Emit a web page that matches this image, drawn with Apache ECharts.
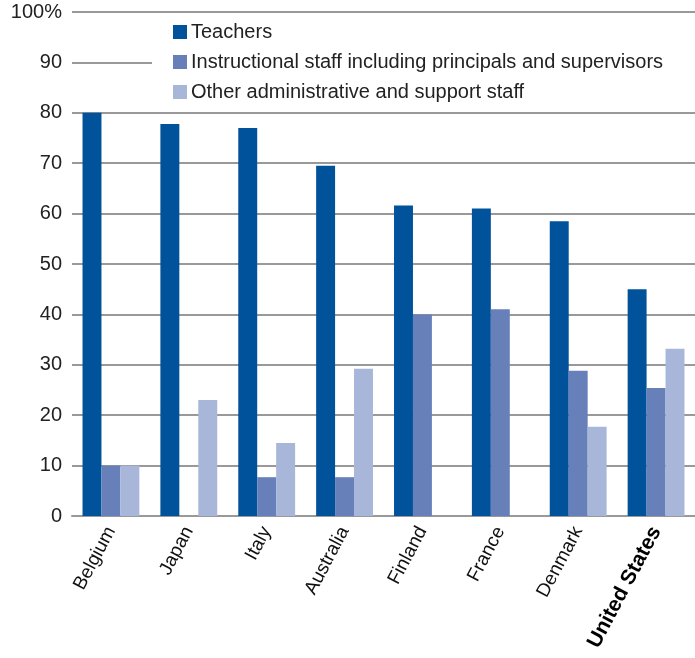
<!DOCTYPE html>
<html>
<head>
<meta charset="utf-8">
<script src="https://cdn.jsdelivr.net/npm/echarts@6/dist/echarts.min.js"></script>
<style>
  html, body { margin: 0; padding: 0; background: #fff; }
  #chart { width: 695px; height: 658px; }
</style>
</head>
<body>
<div id="chart"></div>
<script>
const countries = ["Belgium", "Japan", "Italy", "Australia", "Finland", "France", "Denmark", "United States"];
const teachers = [80, 77.8, 77, 69.5, 61.6, 61, 58.5, 45];
const instructional = [10, null, 7.7, 7.7, 40, 41, 28.8, 25.4];
const otherStaff = [10, 23, 14.5, 29.2, null, null, 17.7, 33.2];

const chart = echarts.init(document.getElementById("chart"));

const barBase = {
  type: "bar",
  barGap: "0%",
  barCategoryGap: "27%"
};

chart.setOption({
  animation: false,
  textStyle: { fontFamily: "Liberation Sans" },
  grid: { left: 72, right: 0, top: 12, bottom: 142, containLabel: false },
  legend: {
    orient: "vertical",
    left: 152,
    top: 16,
    padding: [5, 40, 5, 21],
    backgroundColor: "#fff",
    itemWidth: 14,
    itemHeight: 14,
    itemGap: 8,
    icon: "rect",
    textStyle: { fontSize: 20, color: "#222", lineHeight: 22, padding: [0, 0, 0, -1] },
    data: [
      "Teachers",
      "Instructional staff including principals and supervisors",
      "Other administrative and support staff"
    ]
  },
  xAxis: {
    type: "category",
    data: countries,
    axisTick: { show: false },
    axisLine: { lineStyle: { color: "#999", width: 2 } },
    axisLabel: {
      interval: 0,
      rotate: 62,
      margin: 12,
      fontSize: 19,
      color: "#111",
      formatter: v => v === "United States" ? "{b|" + v + "}" : v,
      rich: { b: { fontWeight: "bold", fontSize: 21, color: "#000" } }
    }
  },
  yAxis: {
    type: "value",
    min: 0,
    max: 100,
    interval: 10,
    axisLine: { show: false },
    axisTick: { show: false },
    splitLine: { lineStyle: { color: "#999", width: 2 } },
    axisLabel: {
      margin: 10,
      fontSize: 20,
      color: "#222",
      formatter: v => v === 100 ? "100%" : String(v)
    }
  },
  series: [
    Object.assign({ name: "Teachers", data: teachers, itemStyle: { color: "#00529b" } }, barBase),
    Object.assign({ name: "Instructional staff including principals and supervisors", data: instructional, itemStyle: { color: "#6780ba" } }, barBase),
    Object.assign({ name: "Other administrative and support staff", data: otherStaff, itemStyle: { color: "#a8b6d9" } }, barBase)
  ]
});
</script>
</body>
</html>
